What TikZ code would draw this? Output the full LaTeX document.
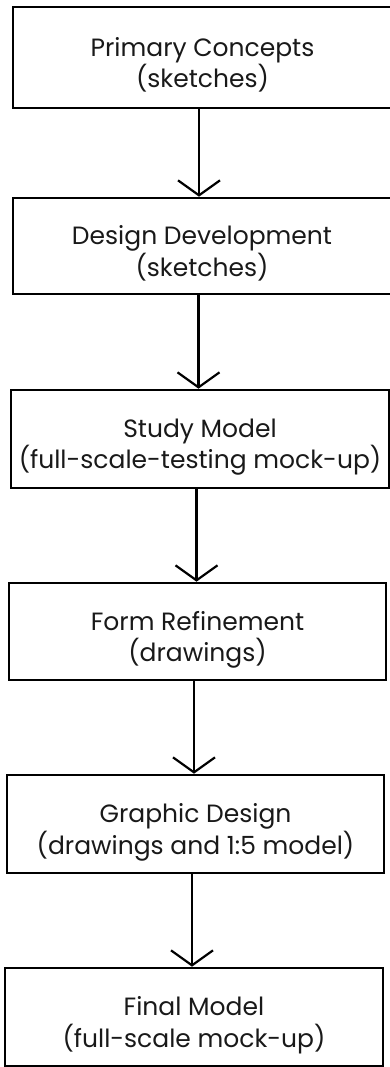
\documentclass[tikz,border=0pt]{standalone}
\usepackage{fontspec}
\setmainfont{Poppins}
\usetikzlibrary{arrows.meta}
\newcommand{\stagetxt}[2]{\raisebox{-9pt}[\height][\depth]{\begin{tabular}{@{}c@{}}#1\\#2\end{tabular}}}
\begin{document}
\begin{tikzpicture}[x=1pt,y=1pt,
  stagebox/.style={draw=black, line width=2.6pt, rectangle, inner sep=0pt,
    align=center, font=\fontsize{25}{26.5}\selectfont, text=black!90},
  flow/.style={line width=2.2pt, -{Straight Barb[length=15pt,width=42pt,line width=2.2pt]}, shorten >=0pt}]
\useasboundingbox (0,0) rectangle (389,-1067);
\node[stagebox, minimum width=379pt, minimum height=101pt] (a) at (202.5,-57.5) {\stagetxt{Primary Concepts}{(sketches)}};
\node[stagebox, minimum width=378pt, minimum height=96pt] (b) at (202,-246) {\stagetxt{Design Development}{(sketches)}};
\node[stagebox, minimum width=378pt, minimum height=98pt] (c) at (200,-439) {\stagetxt{Study Model}{(full-scale-testing mock-up)}};
\node[stagebox, minimum width=377pt, minimum height=97pt] (d) at (197.5,-631.5) {\stagetxt{Form Refinement}{(drawings)}};
\node[stagebox, minimum width=377pt, minimum height=98pt] (e) at (195.5,-824) {\stagetxt{Graphic Design}{(drawings and 1:5 model)}};
\node[stagebox, minimum width=378pt, minimum height=98pt] (f) at (194,-1017) {\stagetxt{Final Model}{(full-scale mock-up)}};
\foreach \s/\t in {a/b,b/c,c/d,d/e,e/f}{
  \draw[flow] ([xshift=-3.5pt]\s.south) -- ([xshift=-3.5pt]\s.south |- \t.north);
}
\end{tikzpicture}
\end{document}
